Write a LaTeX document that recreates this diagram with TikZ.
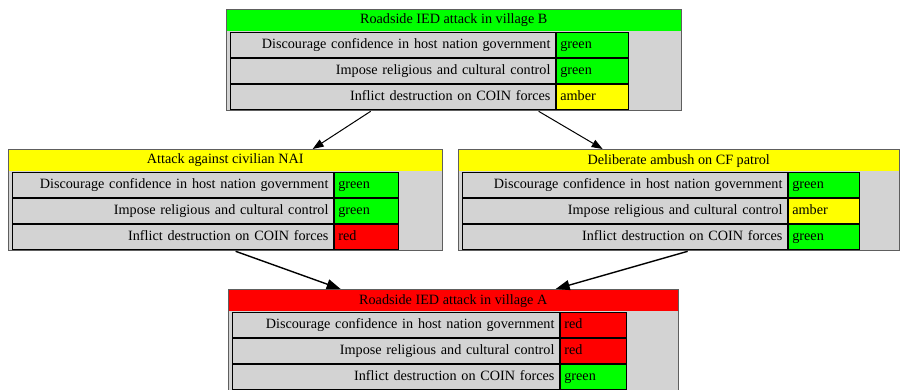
\documentclass[tikz,border=0pt]{standalone}
\usepackage{fontspec}
\setmainfont{Liberation Serif}
\usepackage{tikz}
\usetikzlibrary{positioning,arrows.meta}
\definecolor{cellgray}{HTML}{D3D3D3}
\definecolor{framegray}{HTML}{5E5E5E}
\definecolor{ok}{HTML}{00FF00}
\definecolor{warn}{HTML}{FFFF00}
\definecolor{bad}{HTML}{FF0000}
\tikzset{
  every node/.style={font=\fontsize{14.2}{17}\selectfont},
  effect/.style={draw=framegray, line width=1.3pt, fill=cellgray, anchor=north west,
    inner sep=0pt, minimum height=101pt, minimum width=#1},
  title/.style={fill=#1, anchor=north west, inner sep=0pt, minimum height=21.5pt},
  goal/.style={draw, line width=0.9pt, fill=cellgray, text width=315pt, align=right,
    inner xsep=5pt, inner ysep=0pt, minimum height=25pt, text height=10pt, text depth=3pt},
  rating/.style 2 args={draw, line width=0.9pt, fill=#1, text width=#2, align=left,
    inner xsep=4pt, inner ysep=0pt, minimum height=25pt, text height=10pt, text depth=3pt},
  link/.style={line width=1pt, -{Triangle[length=11pt,width=8pt]}},
  biglink/.style={line width=1.4pt, -{Triangle[length=14pt,width=10pt]}}
}
\begin{document}
\begin{tikzpicture}[x=1pt, y=-1pt]
        \useasboundingbox (0,0) rectangle (901,389);
        % Village B (top)
        \node[effect=455pt] (B) at (226,9) {};
        \node[title=ok, minimum width=453.7pt] (Bt) at ([shift={(0.65,0.65)}]B.north west) {Roadside IED attack in village B};
        \node[goal, anchor=north west, below right=23pt and 4pt of B.north west] (B1) {Discourage confidence in host nation government};
        \node[goal, below=0pt of B1] (B2) {Impose religious and cultural control};
        \node[goal, below=0pt of B2] (B3) {Inflict destruction on COIN forces};
        \node[rating={ok}{64pt}, right=0pt of B1] (B1r) {green};
        \node[rating={ok}{64pt}, right=0pt of B2] (B2r) {green};
        \node[rating={warn}{64pt}, right=0pt of B3] (B3r) {amber};
        % Civilian NAI (left)
        \node[effect=434pt] (NAI) at (8,149) {};
        \node[title=warn, minimum width=432.7pt] (NAIt) at ([shift={(0.65,0.65)}]NAI.north west) {Attack against civilian NAI};
        \node[goal, text width=311pt, anchor=north west, below right=23pt and 4pt of NAI.north west] (NAI1) {Discourage confidence in host nation government};
        \node[goal, text width=311pt, below=0pt of NAI1] (NAI2) {Impose religious and cultural control};
        \node[goal, text width=311pt, below=0pt of NAI2] (NAI3) {Inflict destruction on COIN forces};
        \node[rating={ok}{56pt}, right=0pt of NAI1] (NAI1r) {green};
        \node[rating={ok}{56pt}, right=0pt of NAI2] (NAI2r) {green};
        \node[rating={bad}{56pt}, right=0pt of NAI3] (NAI3r) {red};
        % CF patrol (right)
        \node[effect=441pt] (CF) at (458,149) {};
        \node[title=warn, minimum width=439.7pt] (CFt) at ([shift={(0.65,0.65)}]CF.north west) {Deliberate ambush on CF patrol};
        \node[goal, anchor=north west, below right=23pt and 4pt of CF.north west] (CF1) {Discourage confidence in host nation government};
        \node[goal, below=0pt of CF1] (CF2) {Impose religious and cultural control};
        \node[goal, below=0pt of CF2] (CF3) {Inflict destruction on COIN forces};
        \node[rating={ok}{63pt}, right=0pt of CF1] (CF1r) {green};
        \node[rating={warn}{63pt}, right=0pt of CF2] (CF2r) {amber};
        \node[rating={ok}{63pt}, right=0pt of CF3] (CF3r) {green};
        % Village A (bottom)
        \node[effect=450pt] (A) at (228,289) {};
        \node[title=bad, minimum width=448.7pt] (At) at ([shift={(0.65,0.65)}]A.north west) {Roadside IED attack in village A};
        \node[goal, text width=317pt, anchor=north west, below right=23pt and 4pt of A.north west] (A1) {Discourage confidence in host nation government};
        \node[goal, text width=317pt, below=0pt of A1] (A2) {Impose religious and cultural control};
        \node[goal, text width=317pt, below=0pt of A2] (A3) {Inflict destruction on COIN forces};
        \node[rating={bad}{58pt}, right=0pt of A1] (A1r) {red};
        \node[rating={bad}{58pt}, right=0pt of A2] (A2r) {red};
        \node[rating={ok}{58pt}, right=0pt of A3] (A3r) {green};
        % Links
        \draw[link] ([xshift=-83.5pt]B.south) -- ([xshift=87pt]NAI.north);
        \draw[link] ([xshift=84.5pt]B.south) -- ([xshift=-76.5pt]CF.north);
        \draw[biglink] ([xshift=10pt]NAI.south) -- ([xshift=-113pt]A.north);
        \draw[biglink] ([xshift=8.5pt]CF.south) -- ([xshift=102pt]A.north);
\end{tikzpicture}
\end{document}
